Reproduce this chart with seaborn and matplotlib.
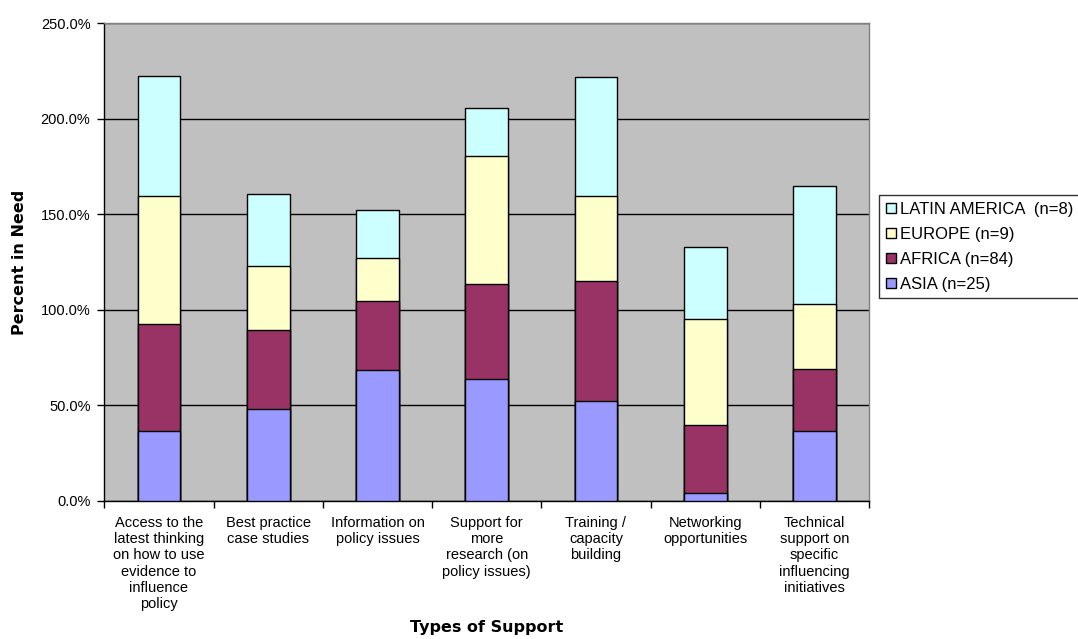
import matplotlib
matplotlib.use('Agg')
import matplotlib.pyplot as plt
import matplotlib.ticker as mticker
import numpy as np
import pandas as pd
import seaborn as sns

categories = ['Access to the\nlatest thinking\non how to use\nevidence to\ninfluence\npolicy',
              'Best practice\ncase studies',
              'Information on\npolicy issues',
              'Support for\nmore\nresearch (on\npolicy issues)',
              'Training /\ncapacity\nbuilding',
              'Networking\nopportunities',
              'Technical\nsupport on\nspecific\ninfluencing\ninitiatives']

asia = [36.4, 47.9, 68.3, 63.6, 52.1, 4.2, 36.6]
africa = [56.3, 41.3, 36.4, 50.0, 62.9, 35.7, 32.4]
europe = [66.9, 33.8, 22.3, 66.9, 44.6, 55.4, 33.8]
latin_america = [62.7, 37.4, 25.1, 24.9, 62.2, 37.8, 62.2]

regions = ['ASIA (n=25)', 'AFRICA (n=84)', 'EUROPE (n=9)', 'LATIN AMERICA  (n=8)']
colors = ['#9999FF', '#993366', '#FFFFCC', '#CCFFFF']

sns.set_style('white')
plt.rcParams['font.family'] = ['Liberation Sans', 'DejaVu Sans']
plt.rcParams.update({'text.color': 'black', 'axes.labelcolor': 'black',
                     'xtick.color': 'black', 'ytick.color': 'black'})

df = pd.DataFrame({'type': categories, regions[0]: asia, regions[1]: africa,
                   regions[2]: europe, regions[3]: latin_america})
cum = df[regions].cumsum(axis=1)

fig = plt.figure(figsize=(10.78, 6.39), dpi=100)
ax = fig.add_axes([0.0968, 0.2164, 0.7094, 0.7471])
ax.set_facecolor('#C0C0C0')

# stacked: draw tallest (cumulative) first, then cover with lower layers
for region, color in zip(regions[::-1], colors[::-1]):
    sns.barplot(x=df['type'], y=cum[region], color=color, saturation=1, width=0.39,
                edgecolor='black', linewidth=1, label=region, ax=ax, zorder=3)
if ax.get_legend() is not None:
    ax.get_legend().remove()

ax.set_ylim(0, 250)
ax.set_xlim(-0.5, len(categories) - 0.5)
ax.yaxis.set_major_locator(mticker.MultipleLocator(50))
ax.yaxis.set_major_formatter(mticker.FuncFormatter(lambda v, p: f'{v:.1f}%'))
ax.grid(axis='y', color='black', linewidth=1, zorder=0)
ax.set_axisbelow(True)

ax.set_xticks(np.arange(len(categories)))
ax.set_xticklabels(categories, fontsize=10.5, linespacing=1.2, va='top')
ax.set_xticks(np.arange(len(categories) + 1) - 0.5, minor=True)
ax.tick_params(axis='x', which='major', bottom=True, length=0, pad=11)
ax.tick_params(axis='x', which='minor', bottom=True, length=5, width=1, color='black', direction='out')
ax.tick_params(axis='y', left=True, length=5, width=1, color='black', direction='out', labelsize=10.5, pad=5)

for side in ['top', 'right']:
    ax.spines[side].set_color('#808080')
    ax.spines[side].set_linewidth(1)
for side in ['left', 'bottom']:
    ax.spines[side].set_color('black')
    ax.spines[side].set_linewidth(1)

ax.set_xlabel('Types of Support', fontsize=11.5, fontweight='bold', family='DejaVu Sans')
ax.xaxis.set_label_coords(0.5, -0.249)
ax.set_ylabel('Percent in Need', fontsize=11.5, fontweight='bold', family='DejaVu Sans')
ax.yaxis.set_label_coords(-0.101, 0.5)

handles, labels = ax.get_legend_handles_labels()
leg = fig.legend(handles, labels, loc='upper left', bbox_to_anchor=(0.8154, 0.6948),
                 fontsize=12, frameon=True, fancybox=False, edgecolor='black',
                 handlelength=0.6, handleheight=0.6, handletextpad=0.25,
                 labelspacing=0.6, borderpad=0.4, borderaxespad=0)
leg.get_frame().set_linewidth(1)

plt.savefig('out.png', dpi=100)
